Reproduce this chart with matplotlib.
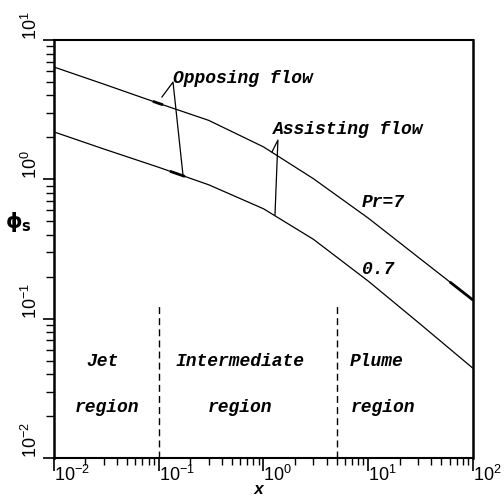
import numpy as np
import matplotlib
matplotlib.use('Agg')
import matplotlib.pyplot as plt

# values
x_pts = [0.01, 0.03, 0.1, 0.3, 1.0, 3.0, 10.0, 30.0, 100.0]
phi_pr7 = [6.40, 4.82, 3.51, 2.65, 1.71, 1.01, 0.527, 0.276, 0.136]
phi_pr07 = [2.19, 1.65, 1.22, 0.914, 0.615, 0.371, 0.186, 0.094, 0.044]

# boundaries between the flow regions
region_bounds = [0.1, 5.0]
region_top = 0.125

xtick_vals = [1e-2, 1e-1, 1e0, 1e1, 1e2]
xtick_text = ['10^{-2}', '10^{-1}', '10^{0}', '10^{1}', '10^{2}']
ytick_vals = [1e-2, 1e-1, 1e0, 1e1]
ytick_text = ['10^{-2}', '10^{-1}', '10^{0}', '10^{1}']

plt.rcParams['font.family'] = ['Liberation Sans', 'DejaVu Sans']
plt.rcParams['mathtext.default'] = 'regular'

mono = dict(family='Liberation Mono', weight='bold', style='italic', fontsize=13)

fig = plt.figure(figsize=(5.04, 4.97), dpi=100)
ax = fig.add_axes([0.107, 0.0785, 0.8315, 0.841])

ax.plot(x_pts, phi_pr7, color='black', lw=0.9)
ax.plot(x_pts, phi_pr07, color='black', lw=0.9)

# short thicker bits where the pointers meet the curves
lx = np.log10(x_pts)
for seg, phi in [((0.088, 0.110), phi_pr7), ((0.128, 0.178), phi_pr07), ((60, 100), phi_pr7)]:
  xs = np.logspace(np.log10(seg[0]), np.log10(seg[1]), 5)
  ys = 10 ** np.interp(np.log10(xs), lx, np.log10(phi))
  ax.plot(xs, ys, color='black', lw=2.0, solid_capstyle='butt')

for xb in region_bounds:
  ax.plot([xb, xb], [1e-2, region_top], color='black', lw=1.0, dashes=(5, 3))

# pointer lines
ax.plot([0.1074, 0.137, 0.1706], [3.90, 4.99, 1.07], color='black', lw=0.9)
ax.plot([1.205, 1.374, 1.288], [1.57, 1.914, 0.555], color='black', lw=0.9)

ax.set_xscale('log')
ax.set_yscale('log')
ax.set_xlim(1e-2, 1e2)
ax.set_ylim(1e-2, 1e1)

ax.set_xticks(xtick_vals)
ax.set_xticklabels(['$' + t + '$' for t in xtick_text], ha='left', fontsize=13)
ax.set_yticks(ytick_vals)
ax.set_yticklabels(['$' + t + '$' for t in ytick_text], rotation=90, va='bottom', fontsize=13)

ax.tick_params(axis='both', which='both', direction='out', top=False, right=False, color='black')
ax.tick_params(axis='x', which='major', length=9, width=1.2, pad=-4)
ax.tick_params(axis='x', which='minor', length=5, width=1.0)
ax.tick_params(axis='y', which='major', length=8, width=1.2, pad=1)
ax.tick_params(axis='y', which='minor', length=6, width=1.0)

for side in ['left', 'right']:
  ax.spines[side].set_linewidth(1.8)
for side in ['top', 'bottom']:
  ax.spines[side].set_linewidth(1.5)

ax.text(0.284, 0.907, 'Opposing flow', transform=ax.transAxes, ha='left', va='center', **mono)
ax.text(0.523, 0.785, 'Assisting flow', transform=ax.transAxes, ha='left', va='center', **mono)
ax.text(0.735, 0.612, 'Pr=7', transform=ax.transAxes, ha='left', va='center', **mono)
ax.text(0.735, 0.450, '0.7', transform=ax.transAxes, ha='left', va='center', **mono)

ax.text(0.115, 0.230, 'Jet', transform=ax.transAxes, ha='center', va='center', **mono)
ax.text(0.126, 0.120, 'region', transform=ax.transAxes, ha='center', va='center', **mono)
ax.text(0.444, 0.230, 'Intermediate', transform=ax.transAxes, ha='center', va='center', **mono)
ax.text(0.444, 0.120, 'region', transform=ax.transAxes, ha='center', va='center', **mono)
ax.text(0.771, 0.230, 'Plume', transform=ax.transAxes, ha='center', va='center', **mono)
ax.text(0.785, 0.120, 'region', transform=ax.transAxes, ha='center', va='center', **mono)

fig.text(0.036, 0.553, r'$\phi_s$', ha='center', va='center', fontsize=15,
         family='DejaVu Sans', weight='bold')
fig.text(0.512, 0.006, 'x', ha='center', va='baseline',
         family='Liberation Mono', weight='bold', style='italic', fontsize=12)

fig.savefig('out.png', dpi=100)
